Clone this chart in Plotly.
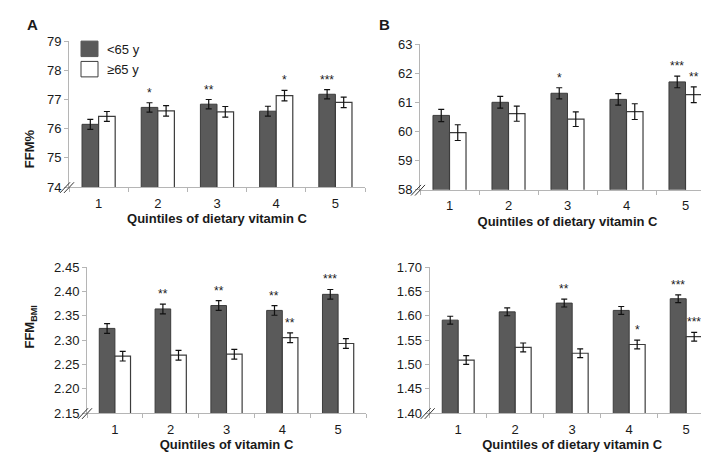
import plotly.graph_objects as go

W, H = 709, 454

# ---------------- data ----------------
quintiles = ["1", "2", "3", "4", "5"]
series_names = ["<65 y", "≥65 y"]

a_young = [76.15, 76.73, 76.84, 76.60, 77.18]
a_young_err = [0.17, 0.16, 0.16, 0.17, 0.16]
a_old = [76.42, 76.61, 76.58, 77.13, 76.90]
a_old_err = [0.17, 0.18, 0.18, 0.18, 0.18]
a_young_sig = ["", "*", "**", "", "***"]
a_old_sig = ["", "", "", "*", ""]

b_young = [60.55, 61.00, 61.31, 61.10, 61.70]
b_young_err = [0.21, 0.20, 0.19, 0.20, 0.20]
b_old = [59.96, 60.61, 60.42, 60.68, 61.26]
b_old_err = [0.27, 0.26, 0.25, 0.27, 0.27]
b_young_sig = ["", "", "*", "", "***"]
b_old_sig = ["", "", "", "", "**"]

c_young = [2.324, 2.364, 2.371, 2.361, 2.394]
c_young_err = [0.010, 0.010, 0.010, 0.010, 0.010]
c_old = [2.267, 2.269, 2.271, 2.305, 2.293]
c_old_err = [0.010, 0.010, 0.010, 0.010, 0.010]
c_young_sig = ["", "**", "**", "**", "***"]
c_old_sig = ["", "", "", "**", ""]

d_young = [1.591, 1.608, 1.626, 1.611, 1.635]
d_young_err = [0.008, 0.008, 0.008, 0.008, 0.008]
d_old = [1.509, 1.535, 1.523, 1.541, 1.557]
d_old_err = [0.009, 0.009, 0.009, 0.009, 0.009]
d_young_sig = ["", "", "**", "", "***"]
d_old_sig = ["", "", "", "*", "***"]

x_title_top = "Quintiles of dietary vitamin C"
x_title_bl = "Quintiles of vitamin C"
x_title_br = "Quintiles of dietary vitamin C"

# ---------------- style ----------------
FONT = "Liberation Sans, Arial, sans-serif"
DARK = "#5a5a5a"
AXIS = "#b5b5b5"
TXT = "#1a1a1a"
BARGAP = 0.44


def px(x):
    return x / W


def py(y):
    return 1 - y / H


panels = [
    dict(ax="", xd=(61, 357), yd=(27, 178), rng=[74, 79], dtick=1, fmt="d",
         young=a_young, ye=a_young_err, old=a_old, oe=a_old_err,
         ys=a_young_sig, os=a_old_sig, xt=x_title_top),
    dict(ax="2", xd=(412, 707), yd=(30, 180.7), rng=[58, 63], dtick=1, fmt="d",
         young=b_young, ye=b_young_err, old=b_old, oe=b_old_err,
         ys=b_young_sig, os=b_old_sig, xt=x_title_top),
    dict(ax="3", xd=(79, 358), yd=(260.7, 411.7), rng=[2.15, 2.45], dtick=0.05, fmt=".2f",
         young=c_young, ye=c_young_err, old=c_old, oe=c_old_err,
         ys=c_young_sig, os=c_old_sig, xt=x_title_bl),
    dict(ax="4", xd=(421.7, 706.7), yd=(260.7, 411.7), rng=[1.40, 1.70], dtick=0.05, fmt=".2f",
         young=d_young, ye=d_young_err, old=d_old, oe=d_old_err,
         ys=d_young_sig, os=d_old_sig, xt=x_title_br),
]

fig = go.Figure()
annotations = []
shapes = []
layout = {}

half = (1 - BARGAP) / 4  # center offset of each bar in category units

for i, p in enumerate(panels):
    xa = "x" + p["ax"]
    ya = "y" + p["ax"]
    fig.add_trace(go.Bar(
        x=quintiles, y=p["young"], name=series_names[0], xaxis=xa, yaxis=ya,
        marker=dict(color=DARK, line=dict(color="#3c3c3c", width=1)),
        error_y=dict(type="data", array=p["ye"], color="#111111", thickness=1.2, width=3),
        showlegend=False, offsetgroup="a",
    ))
    fig.add_trace(go.Bar(
        x=quintiles, y=p["old"], name=series_names[1], xaxis=xa, yaxis=ya,
        marker=dict(color="white", line=dict(color="#3c3c3c", width=1.2)),
        error_y=dict(type="data", array=p["oe"], color="#111111", thickness=1.2, width=3),
        showlegend=False, offsetgroup="b",
    ))
    key = p["ax"]
    layout["xaxis" + key] = dict(
        domain=[px(p["xd"][0]), px(p["xd"][1])], anchor=ya, type="category",
        range=[-0.5, 4.5], showline=True, linecolor=AXIS, linewidth=1,
        ticks="outside", tickson="boundaries", ticklen=4, tickcolor=AXIS,
        ticklabelstandoff=4,
        showgrid=False, zeroline=False,
        tickfont=dict(family=FONT, size=13, color=TXT),
        title=dict(text=f"<b>{p['xt']}</b>", standoff=4,
                   font=dict(family=FONT, size=13, color=TXT)),
    )
    layout["yaxis" + key] = dict(
        domain=[py(p["yd"][1]), py(p["yd"][0])], anchor=xa,
        range=p["rng"], dtick=p["dtick"], tick0=p["rng"][0], tickformat=p["fmt"],
        showline=True, linecolor=AXIS, linewidth=1,
        ticks="outside", ticklen=4, tickcolor=AXIS,
        showgrid=False, zeroline=False,
        tickfont=dict(family=FONT, size=13, color=TXT),
    )
    # significance stars
    for j in range(len(quintiles)):
        for vals, errs, sig, off in ((p["young"], p["ye"], p["ys"], -half),
                                     (p["old"], p["oe"], p["os"], half)):
            if sig[j]:
                annotations.append(dict(
                    x=j + off, y=vals[j] + errs[j], xref=xa, yref=ya,
                    text=sig[j], showarrow=False, yanchor="bottom", yshift=1,
                    font=dict(family=FONT, size=12, color=TXT),
                ))
    # axis break marks "//"
    x0, yb = p["xd"][0], p["yd"][1]
    for dx in (-8, -4):
        shapes.append(dict(type="line", xref="paper", yref="paper",
                           x0=px(x0 + dx - 1), y0=py(yb + 6),
                           x1=px(x0 + dx + 9), y1=py(yb - 5),
                           line=dict(color="#333333", width=1)))

# panel letters
annotations.append(dict(x=px(17), y=py(10), xref="paper", yref="paper", text="<b>A</b>",
                        showarrow=False, xanchor="left", yanchor="middle",
                        font=dict(family=FONT, size=15, color=TXT)))
annotations.append(dict(x=px(369), y=py(10), xref="paper", yref="paper", text="<b>B</b>",
                        showarrow=False, xanchor="left", yanchor="middle",
                        font=dict(family=FONT, size=15, color=TXT)))
# y titles
annotations.append(dict(x=px(12), y=py(116), xref="paper", yref="paper", text="<b>FFM%</b>",
                        showarrow=False, textangle=-90,
                        font=dict(family=FONT, size=13, color=TXT)))
annotations.append(dict(x=px(12), y=py(347), xref="paper", yref="paper",
                        text="<b>FFM<sub>BMI</sub></b>",
                        showarrow=False, textangle=-90,
                        font=dict(family=FONT, size=13, color=TXT)))

# legend (drawn manually inside panel A)
legend_items = [(series_names[0], DARK, 27), (series_names[1], "white", 48)]
for name, col, top in legend_items:
    shapes.append(dict(type="rect", xref="paper", yref="paper",
                       x0=px(73), x1=px(90), y0=py(top + 16), y1=py(top),
                       fillcolor=col, line=dict(color="#3c3c3c" if col == "white" else DARK, width=1)))
    annotations.append(dict(x=px(97), y=py(top + 8.5), xref="paper", yref="paper", text=name,
                            showarrow=False, xanchor="left", yanchor="middle",
                            font=dict(family=FONT, size=13, color=TXT)))

fig.update_layout(
    width=W, height=H, margin=dict(l=0, r=0, t=0, b=0),
    paper_bgcolor="white", plot_bgcolor="white",
    barmode="group", bargap=BARGAP, bargroupgap=0,
    annotations=annotations, shapes=shapes,
    font=dict(family=FONT, size=13, color=TXT),
    **layout,
)

fig.write_html("out.html")
